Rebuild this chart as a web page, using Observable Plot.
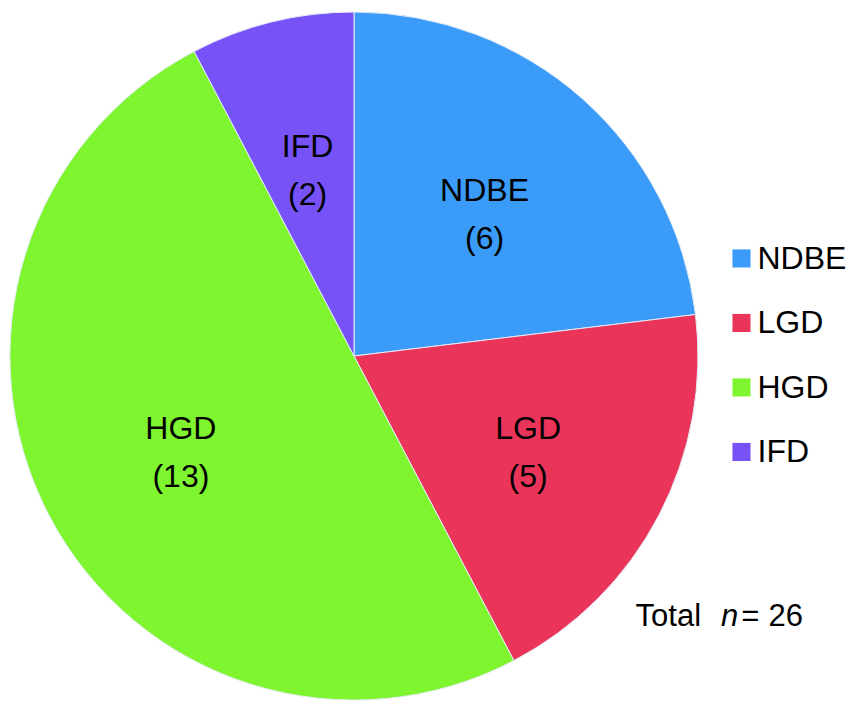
<!DOCTYPE html>
<html>
<head>
<meta charset="utf-8">
<script src="https://cdn.jsdelivr.net/npm/d3@7"></script>
<script src="https://cdn.jsdelivr.net/npm/@observablehq/plot@0.6"></script>
<style>
  html, body { margin: 0; padding: 0; background: #fff; }
  #chart { width: 848px; height: 712px; }
</style>
</head>
<body>
<div id="chart"></div>
<script>
const categories = ["NDBE", "LGD", "HGD", "IFD"];
const counts = [6, 5, 13, 2];
const colors = ["#3a9bf8", "#ea3459", "#7ef52e", "#7652f7"];
const totalLabel = "Total n = 26";

const rows = categories.map((c, i) => ({category: c, count: counts[i], i}));
const pie = d3.pie().sort(null).value(d => d.count);
const arcs = pie(rows);
const labelRadius = 0.57;
const labels = arcs.map(a => {
  const mid = (a.startAngle + a.endAngle) / 2;
  return {
    category: a.data.category,
    text: `${a.data.category}\n(${a.data.count})`,
    x: labelRadius * Math.sin(mid),
    y: -labelRadius * Math.cos(mid)
  };
});
const legendRows = rows.map(d => ({...d, lx: 1.125, ly: -0.285 + d.i * 0.1875}));

const font = "Liberation Sans, Arial, Helvetica, sans-serif";

const pieMark = (index, scales) => {
  const cx = scales.x(0), cy = scales.y(0);
  const r = scales.x(1) - scales.x(0);
  const arcGen = d3.arc().innerRadius(0).outerRadius(r);
  const g = d3.create("svg:g").attr("transform", `translate(${cx},${cy})`);
  g.selectAll("path").data(arcs).join("path")
    .attr("d", arcGen)
    .attr("fill", d => scales.color(d.data.category))
    .attr("stroke", "#e4ecf8")
    .attr("stroke-width", 1);
  return g.node();
};

const plot = Plot.plot({
  width: 848,
  height: 712,
  margin: 0,
  style: {fontFamily: font, background: "#fff"},
  x: {type: "linear", domain: [-1, 1], range: [10, 698], axis: null},
  y: {type: "linear", domain: [-1, 1], range: [12, 700], axis: null},
  color: {domain: categories, range: colors},
  marks: [
    pieMark,
    Plot.text(labels, {x: "x", y: "y", text: "text", fontSize: 32, lineHeight: 1.5, fill: "#000", fontFamily: font}),
    Plot.dot(legendRows, {x: "lx", y: "ly", fill: "category", symbol: "square", r: 10.2, stroke: null}),
    Plot.text(legendRows, {x: "lx", y: "ly", text: "category", dx: 16, textAnchor: "start", fontSize: 32, fill: "#000", fontFamily: font}),
    Plot.text([totalLabel], {x: 0.817, y: 0.756, text: d => d, textAnchor: "start", fontSize: 31, fill: "#000", fontFamily: font, className: "total-label"})
  ]
});

// style the italic "n" in the total label
d3.select(plot).selectAll(".total-label text").each(function() {
  const t = d3.select(this);
  const s = t.text();
  const m = s.match(/^(Total) (n) = (\d+)$/);
  if (!m) return;
  t.text(null);
  t.append("tspan").text(m[1]);
  t.append("tspan").attr("dx", 20).attr("font-style", "italic").text(m[2]);
  t.append("tspan").attr("dx", 3).text("=");
  t.append("tspan").attr("dx", 9).text(m[3]);
});

document.getElementById("chart").appendChild(plot);
</script>
</body>
</html>
